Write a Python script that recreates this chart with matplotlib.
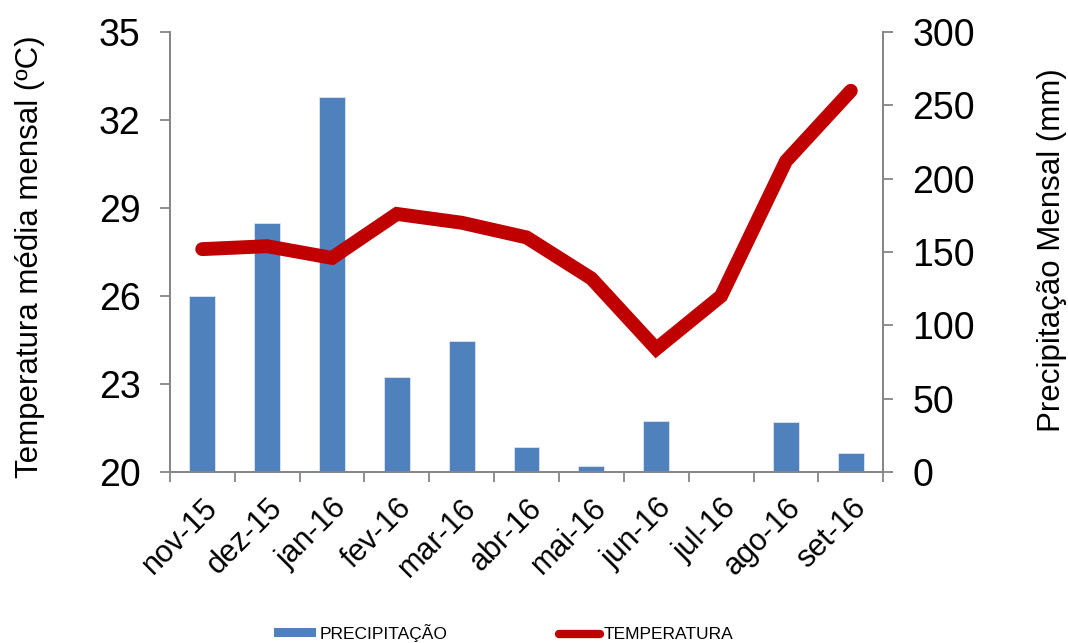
import numpy as np
import matplotlib.pyplot as plt
from matplotlib.lines import Line2D
from matplotlib.patches import Patch

plt.rcParams['font.family'] = ['Liberation Sans', 'DejaVu Sans']

meses = ['nov-15', 'dez-15', 'jan-16', 'fev-16', 'mar-16', 'abr-16',
         'mai-16', 'jun-16', 'jul-16', 'ago-16', 'set-16']
precipitacao = [120, 170, 256, 65, 89, 17, 4, 35, 0, 34, 13]          # mm
temperatura = [27.6, 27.7, 27.3, 28.8, 28.5, 28.0, 26.6, 24.2, 26.0, 30.6, 33.0]  # ºC

azul = '#4F81BD'
vermelho = '#C00000'
cinza = '#868686'

fig = plt.figure(figsize=(10.68, 6.43), dpi=100)
ax = fig.add_axes([0.159, 0.266, 0.668, 0.684])
ax2 = ax.twinx()

x = np.arange(len(meses))

# barras de precipitação no eixo da direita
ax2.bar(x, precipitacao, width=0.4, color=azul, edgecolor='#DCE6F2',
        linewidth=0.6)
ax2.set_ylim(0, 300)
ax2.set_yticks(range(0, 301, 50))

# linha de temperatura por cima das barras
ax.set_zorder(ax2.get_zorder() + 1)
ax.patch.set_visible(False)
ax.plot(x, temperatura, color=vermelho, linewidth=10,
        solid_capstyle='round', solid_joinstyle='miter')
ax.set_ylim(20, 35)
ax.set_yticks([20, 23, 26, 29, 32, 35])

ax.set_xlim(-0.5, len(meses) - 0.5)
ax.set_xticks(np.arange(-0.5, len(meses), 1.0))
ax.set_xticklabels([])
ax.set_xticks(x, minor=True)
ax.set_xticklabels(meses, minor=True, rotation=45, ha='right',
                   rotation_mode='anchor', fontsize=22)
ax.tick_params(axis='x', which='minor', length=0, pad=15)
ax.tick_params(axis='x', which='major', length=7, width=1.3, color=cinza)

for a in (ax, ax2):
    a.spines['top'].set_visible(False)
    for s in ('left', 'right', 'bottom'):
        a.spines[s].set_color(cinza)
        a.spines[s].set_linewidth(1.3)
    a.tick_params(axis='y', labelsize=27, length=7, width=1.3, color=cinza, pad=14)

ax.set_ylabel('Temperatura média mensal (ºC)', fontsize=22.5)
ax.yaxis.set_label_coords(-0.175, 0.49)
ax2.set_ylabel('Precipitação Mensal (mm)', fontsize=22.5)
ax2.yaxis.set_label_coords(1.216, 0.505)

handles = [Patch(facecolor=azul, edgecolor='none'),
           Line2D([], [], color=vermelho, linewidth=6, solid_capstyle='round')]
fig.legend(handles, ['PRECIPITAÇÃO', 'TEMPERATURA'], loc='center', ncol=2,
           bbox_to_anchor=(504 / 1068, 1 - 633 / 643), frameon=False,
           fontsize=12.5, handlelength=2.4, handleheight=0.45,
           handletextpad=0.2, columnspacing=6.4)

fig.savefig('out.png', dpi=100)
